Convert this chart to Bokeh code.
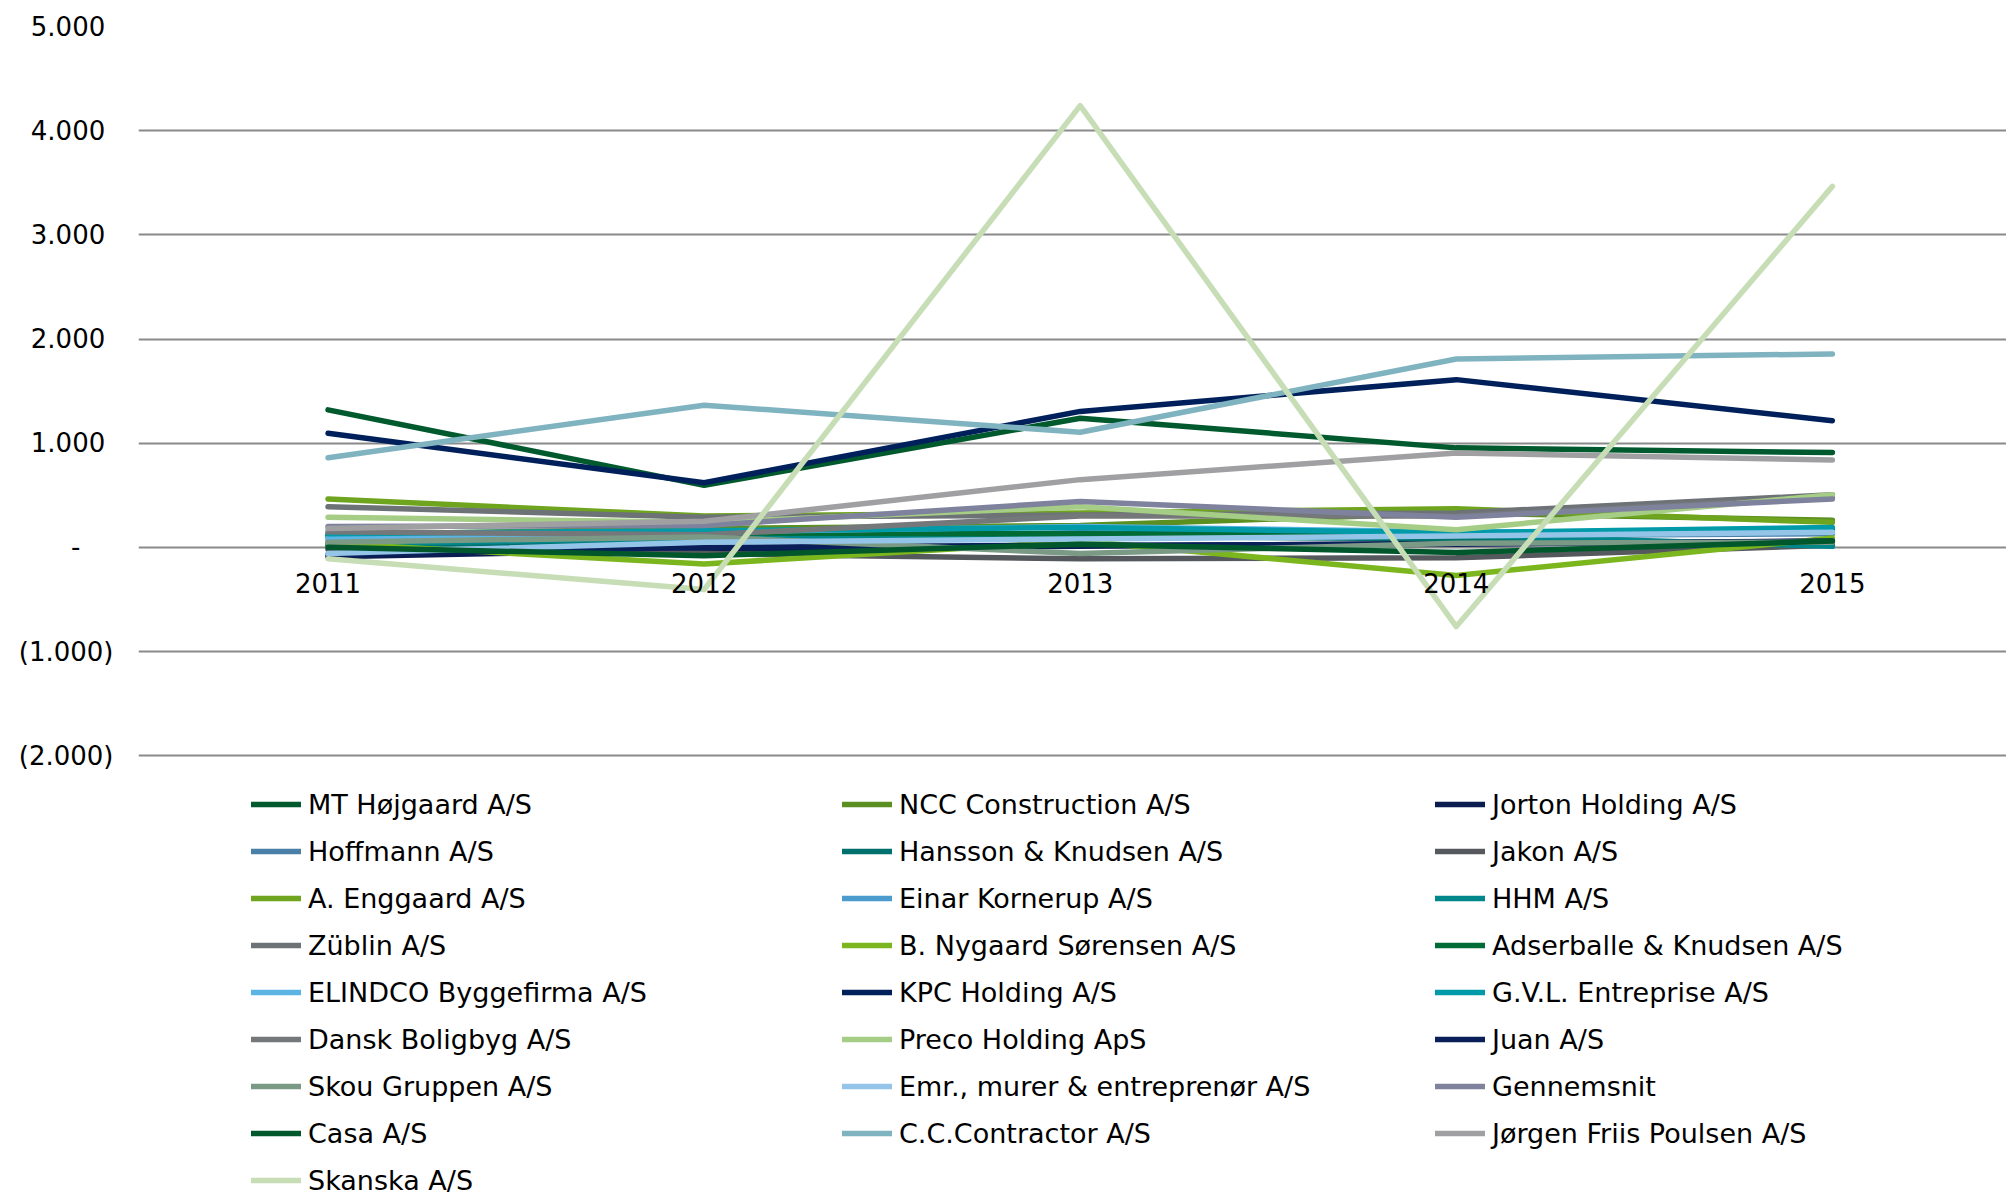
from bokeh.plotting import figure
from bokeh.models import Range1d, FixedTicker, Legend, LegendItem
from bokeh.core.properties import value
from bokeh.embed import file_html
from bokeh.resources import INLINE

years = ["2011", "2012", "2013", "2014", "2015"]
y_ticks = [-2000, -1000, 0, 1000, 2000, 3000, 4000, 5000]
y_tick_labels = ["(2.000)", "(1.000)", "-\u2007\u2007", "1.000\u00a0", "2.000\u00a0",
                 "3.000\u00a0", "4.000\u00a0", "5.000\u00a0"]

mt_hojgaard = [1320, 595, 1240, 955, 910]
ncc = [120, 180, 210, 330, 260]
jorton = [-90, -20, 10, 40, 60]
hoffmann = [60, 80, 140, 110, 130]
hansson = [20, 60, 110, 80, 20]
jakon = [-20, -60, -110, -100, 20]
enggaard = [465, 300, 330, 370, 240]
kornerup = [90, 120, 90, 130, 160]
hhm = [30, 90, 130, 120, 10]
zublin = [390, 290, 310, 330, 505]
nygaard = [40, -160, 60, -270, 90]
adserballe = [110, 140, 130, 110, 170]
elindco = [90, 150, 200, 150, 150]
kpc = [1095, 620, 1305, 1610, 1215]
gvl = [130, 160, 190, 140, 190]
dansk_boligbyg = [150, 120, 300, 300, 480]
preco = [290, 240, 390, 170, 505]
juan = [-70, 0, 20, 30, 60]
skou = [50, 100, -60, 40, 50]
emr = [-60, 50, 80, 110, 145]
gennemsnit = [200, 210, 440, 290, 465]
casa = [0, -80, 30, -50, 60]
cc_contractor = [860, 1365, 1105, 1808, 1857]
jorgen_friis = [180, 250, 650, 905, 838]
skanska = [-110, -405, 4240, -760, 3465]

names = ["MT Højgaard A/S", "NCC Construction A/S", "Jorton Holding A/S",
         "Hoffmann A/S", "Hansson & Knudsen A/S", "Jakon A/S",
         "A. Enggaard A/S", "Einar Kornerup A/S", "HHM A/S",
         "Züblin A/S", "B. Nygaard Sørensen A/S", "Adserballe & Knudsen A/S",
         "ELINDCO Byggefirma A/S", "KPC Holding A/S", "G.V.L. Entreprise A/S",
         "Dansk Boligbyg A/S", "Preco Holding ApS", "Juan A/S",
         "Skou Gruppen A/S", "Emr., murer & entreprenør A/S", "Gennemsnit",
         "Casa A/S", "C.C.Contractor A/S", "Jørgen Friis Poulsen A/S",
         "Skanska A/S"]
series = [mt_hojgaard, ncc, jorton, hoffmann, hansson, jakon, enggaard, kornerup,
          hhm, zublin, nygaard, adserballe, elindco, kpc, gvl, dansk_boligbyg,
          preco, juan, skou, emr, gennemsnit, casa, cc_contractor, jorgen_friis,
          skanska]
colors = ["#005a2e", "#5b8f22", "#0b1d4f", "#4a80a8", "#00706e", "#55595d",
          "#6fa51e", "#4b9bcf", "#00878b", "#6d7276", "#7cb61e", "#006b35",
          "#5cb4e4", "#00205b", "#009aa8", "#75787b", "#a5cd86", "#0a1f5a",
          "#7a9a86", "#94c5e9", "#7f829d", "#00572c", "#80b3c0", "#a0a0a2",
          "#c6ddb6"]

FONT = "DejaVu Sans"

p = figure(width=2006, height=1200, output_backend="svg", toolbar_location=None,
           x_range=Range1d(-0.504, 4.463), y_range=Range1d(-6270, 5000),
           x_axis_location=None, min_border_left=138, min_border_right=0,
           min_border_top=26, min_border_bottom=0)
p.outline_line_color = None
p.xgrid.visible = False

ticker = FixedTicker(ticks=y_ticks)
p.yaxis.ticker = ticker
p.ygrid.ticker = ticker
p.ygrid.grid_line_color = "#8a8a8a"
p.ygrid.grid_line_width = 1.8
p.yaxis.major_label_overrides = {t: lab for t, lab in zip(y_ticks, y_tick_labels)}
p.yaxis.axis_line_color = None
p.yaxis.major_tick_line_color = None
p.yaxis.minor_tick_line_color = None
p.yaxis.major_tick_out = 0
p.yaxis.major_tick_in = 0
p.yaxis.minor_tick_out = 0
p.yaxis.major_label_standoff = 25
p.yaxis.major_label_text_font = FONT
p.yaxis.major_label_text_font_size = "26px"
p.yaxis.major_label_text_color = "#000000"

xs = list(range(len(years)))
renderers = []
for vals, col in zip(series, colors):
    r = p.line(xs, vals, line_color=col, line_width=5.5,
               line_cap="round", line_join="round")
    renderers.append(r)

p.text(x=xs, y=[0] * len(years), text=years, text_align="center",
       text_baseline="middle", y_offset=36, text_font=value(FONT),
       text_font_size="26px", text_color="#000000")

items = [LegendItem(label=n, renderers=[r]) for n, r in zip(names, renderers)]
cols = [items[0::3], items[1::3], items[2::3]]
xlocs = [113, 704, 1297]
ylocs = [4, 51, 51]
for its, xl, yl in zip(cols, xlocs, ylocs):
    leg = Legend(items=its, location=(xl, yl), orientation="vertical",
                 padding=0, margin=0, spacing=15, glyph_width=50, glyph_height=32,
                 label_height=32, label_standoff=7,
                 label_text_font=FONT, label_text_font_size="27px",
                 label_text_color="#000000", border_line_color=None,
                 background_fill_alpha=0)
    p.add_layout(leg)

open("out.html", "w").write(file_html(p, INLINE))
